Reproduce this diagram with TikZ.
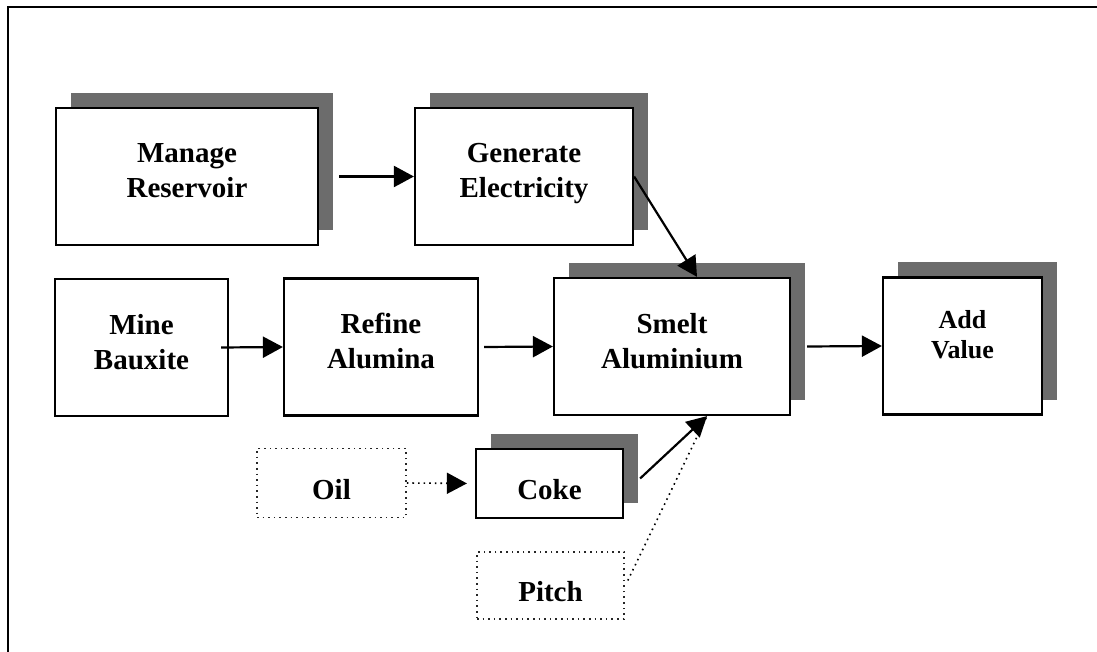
\documentclass[tikz,border=0pt]{standalone}
\usepackage{fontspec}
\setmainfont{Liberation Serif}
\usetikzlibrary{arrows.meta,shadows}
\definecolor{shade}{RGB}{108,108,108}

\begin{document}
\begin{tikzpicture}[x=0.5pt, y=-0.5pt,
    % Node styles
    proc/.style={rectangle, draw=black, line width=1.1pt, fill=white, align=center,
                 font=\fontsize{14.5}{17.5}\selectfont\bfseries, inner sep=0pt,
                 minimum height=68.5pt},
    lift/.style={execute at end node={\rule[-#1]{0pt}{0pt}}},
    shadowed/.style={drop shadow={shadow xshift=7.5pt, shadow yshift=7.5pt,
                     opacity=1, fill=shade}},
    small/.style={proc, minimum height=34.5pt, text height=16pt, text depth=0pt},
    input/.style={small, draw=black!85, line width=0.8pt, dotted},
    % Arrow styles
    flow/.style={-{Triangle[length=10pt, width=10.5pt]}, line width=1.1pt},
    feed/.style={-{Triangle[length=10pt, width=10.5pt]}, line width=0.8pt, dotted}
]
\useasboundingbox (0,0) rectangle (1097,652);

% Frame
\draw[line width=1.2pt] (8,660) -- (8,7) -- (1100,7);

% Top row
\node[proc, lift=6pt, shadowed, minimum width=131pt] (manage) at (187,176.5) {Manage\\Reservoir};
\node[proc, lift=6pt, shadowed, minimum width=109pt] (generate) at (524,176.5) {Generate\\Electricity};

% Middle row
\node[proc, lift=6pt, minimum width=86.5pt] (mine) at (141.5,347.5) {Mine\\Bauxite};
\node[proc, lift=6pt, minimum width=97pt] (refine) at (381,347) {Refine\\Alumina};
\node[proc, lift=6pt, shadowed, minimum width=118pt] (smelt) at (672,346.5) {Smelt\\Aluminium};
\node[proc, lift=12pt, shadowed, minimum width=79.5pt,
      font=\fontsize{13}{15}\selectfont\bfseries] (addval) at (962.5,346) {Add\\Value};

% Raw materials
\node[input, minimum width=74.5pt] (oil) at (331.5,483) {Oil};
\node[small, shadowed, minimum width=73.5pt] (coke) at (549.5,483.5) {Coke};
\node[input, minimum width=73.5pt, minimum height=33.5pt] (pitch) at (550.5,585.5) {Pitch};

% Connectors
\draw[flow] ([xshift=10pt]manage.east) -- (generate.west);
\draw[flow] (generate.east) -- ([xshift=12.5pt]smelt.north);
\draw[flow] ([xshift=-4pt]mine.east) -- (refine.west);
\draw[flow] ([xshift=2.5pt]refine.east) -- (smelt.west);
\draw[flow] ([xshift=8pt]smelt.east) -- (addval.west);
\draw[feed, shorten >=4pt] (oil.east) -- (coke.west);
\draw[line width=0.8pt, dotted] ([xshift=1.5pt,yshift=2.5pt]pitch.east) -- ([xshift=17.5pt]smelt.south);
\draw[flow] ([xshift=8pt,yshift=2.5pt]coke.east) -- ([xshift=17.5pt]smelt.south);

\end{tikzpicture}
\end{document}
